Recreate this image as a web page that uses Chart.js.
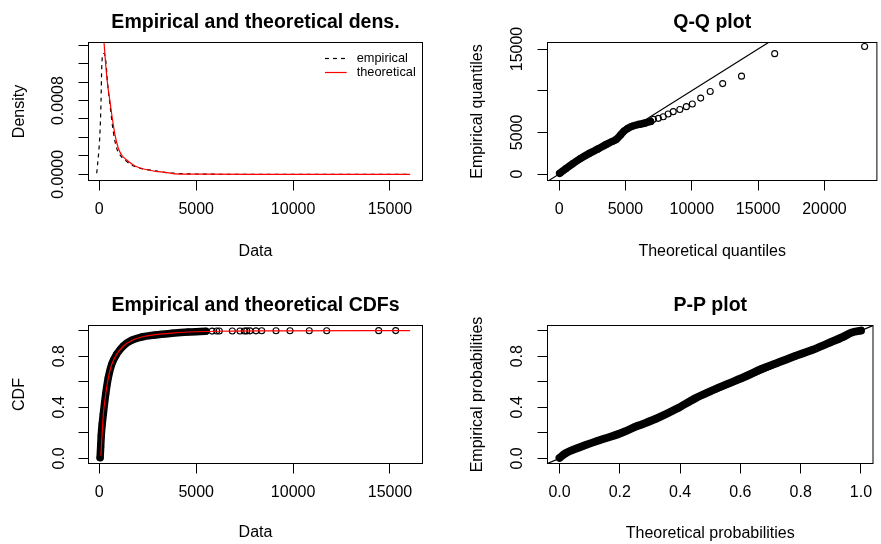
<!DOCTYPE html>
<html><head><meta charset="utf-8">
<script src="https://cdn.jsdelivr.net/npm/chart.js@4.4.1/dist/chart.umd.min.js"></script>
<style>
html,body{margin:0;padding:0;background:#fff;overflow:hidden;}
#wrap{position:relative;width:881px;height:544px;overflow:hidden;background:#fff;}
canvas{position:absolute;}
</style></head><body>
<div id="wrap">
<canvas id="c1" width="440" height="272" style="left:0px;top:0px"></canvas>
<canvas id="c2" width="442" height="272" style="left:440px;top:0px"></canvas>
<canvas id="c3" width="440" height="272" style="left:0px;top:272px"></canvas>
<canvas id="c4" width="442" height="272" style="left:440px;top:272px"></canvas>
</div>
<script>
// ---------- Panel 1: empirical and theoretical densities ----------
const densEmpX = [-134, -15, 36, 88, 124, 175, 243, 330, 433, 552, 722, 898, 1068, 1326, 1672, 2100, 2616, 3132, 3800, 5000, 8000, 12000, 16040];
const densEmpY = [0.0000109, 0.000282, 0.000462, 0.000788, 0.00115, 0.001295, 0.001313, 0.00124, 0.000967, 0.000752, 0.000462, 0.000282, 0.000209, 0.000155, 0.000101, 0.0000651, 0.0000467, 0.0000282, 0.000012, 0.000003, 0, 0, 0];
const densTheoX = [220, 330, 433, 552, 671, 810, 980, 1156, 1414, 1842, 2358, 3044, 3751, 3900, 5000, 8000, 12000, 16040];
const densTheoY = [0.00150, 0.001186, 0.000967, 0.000788, 0.000608, 0.000428, 0.000282, 0.000209, 0.000155, 0.0000901, 0.0000543, 0.0000282, 0.0000109, 0.000004, 0.000001, 0, 0, 0];
const densXTicks = [0, 5000, 10000, 15000];
const densXLabels = ["0", "5000", "10000", "15000"];
const densYTicks = [0, 0.0002, 0.0004, 0.0006, 0.0008, 0.0010, 0.0012, 0.0014];
const densYLabels = ["0.0000", "", "", "", "0.0008", "", "", ""];
const densLegend = ["empirical", "theoretical"];

// ---------- Panel 2: Q-Q plot ----------
const qqBandTheo = [40, 500, 1040, 1600, 2280, 2900, 3520, 4000, 4300, 4640, 4900, 5150, 5500, 6000, 6500, 6900];
const qqBandEmp  = [80, 640, 1250, 1850, 2480, 2980, 3520, 3900, 4150, 4700, 5150, 5450, 5720, 5950, 6120, 6300];
const qqTheo = [7110, 7480, 7850, 8220, 8600, 9100, 9590, 10040, 10670, 11390, 12330, 13750, 16250, 23030];
const qqEmp  = [6560, 6680, 6870, 7200, 7480, 7740, 8080, 8400, 9110, 9900, 10850, 11740, 14440, 15300];
const qqXTicks = [0, 5000, 10000, 15000, 20000];
const qqXLabels = ["0", "5000", "10000", "15000", "20000"];
const qqYTicks = [0, 5000, 10000, 15000];
const qqYLabels = ["0", "5000", "", "15000"];

// ---------- Panel 3: empirical and theoretical CDFs ----------
const cdfBandX = [40, 70, 100, 150, 206, 330, 464, 640, 898, 1238, 1672, 2188, 2874, 3736, 4592, 5500];
const cdfBandY = [0.005, 0.09, 0.18, 0.27, 0.347, 0.503, 0.633, 0.737, 0.816, 0.880, 0.925, 0.950, 0.966, 0.979, 0.989, 0.995];
const cdfPtsX = [5820, 6057, 6192, 6863, 7260, 7482, 7606, 7776, 8086, 8380, 9118, 9840, 10836, 11734, 14417, 15294];
const cdfPtsY = [0.9962, 0.9965, 0.9968, 0.997, 0.9973, 0.9975, 0.9978, 0.998, 0.9983, 0.9985, 0.9988, 0.999, 0.9993, 0.9995, 0.9998, 1.0];
const cdfTheoX = [80, 206, 330, 464, 640, 898, 1238, 1672, 2188, 2874, 3736, 4592, 6000, 9000, 16040];
const cdfTheoY = [0.02, 0.34, 0.50, 0.63, 0.735, 0.815, 0.878, 0.923, 0.950, 0.968, 0.981, 0.989, 0.995, 0.998, 1.0];
const cdfXTicks = [0, 5000, 10000, 15000];
const cdfXLabels = ["0", "5000", "10000", "15000"];
const cdfYTicks = [0, 0.2, 0.4, 0.6, 0.8, 1.0];
const cdfYLabels = ["0.0", "", "0.4", "", "0.8", ""];

// ---------- Panel 4: P-P plot ----------
const ppBandTheo = [0.0, 0.02, 0.065, 0.13, 0.2, 0.26, 0.32, 0.39, 0.45, 0.5, 0.56, 0.62, 0.67, 0.72, 0.78, 0.84, 0.89, 0.94, 0.97, 1.0];
const ppBandEmp  = [0.004, 0.04, 0.085, 0.14, 0.195, 0.255, 0.31, 0.39, 0.47, 0.525, 0.585, 0.645, 0.70, 0.745, 0.80, 0.85, 0.90, 0.95, 0.985, 1.0];
const ppXTicks = [0, 0.2, 0.4, 0.6, 0.8, 1.0];
const ppXLabels = ["0.0", "0.2", "0.4", "0.6", "0.8", "1.0"];
const ppYTicks = [0, 0.2, 0.4, 0.6, 0.8, 1.0];
const ppYLabels = ["0.0", "", "0.4", "", "0.8", ""];

// ---------------------------------------------------------------
const FONT = "'Liberation Sans', Arial, Helvetica, sans-serif";
Chart.defaults.font.family = FONT;
Chart.defaults.color = '#000';

const pts = (xs, ys) => xs.map((x, i) => ({x: x, y: ys[i]}));

const boxPlugin = {
  id: 'rbox',
  afterDraw(chart) {
    const {ctx, chartArea: a} = chart;
    ctx.save();
    ctx.strokeStyle = '#000';
    ctx.lineWidth = 1;
    ctx.strokeRect(a.left, a.top, a.right - a.left, a.bottom - a.top);
    ctx.restore();
  }
};

const legendPlugin = {
  id: 'rlegend',
  afterDraw(chart, args, opts) {
    if (!opts || !opts.items) return;
    const {ctx, chartArea: a} = chart;
    ctx.save();
    ctx.font = '12.8px ' + FONT;
    ctx.textBaseline = 'middle';
    ctx.textAlign = 'left';
    opts.items.forEach((it, i) => {
      const y = a.top + opts.top + i * opts.gap;
      const x0 = a.right - opts.fromRight;
      ctx.strokeStyle = it.color;
      ctx.lineWidth = 1.2;
      ctx.setLineDash(it.dash || []);
      ctx.beginPath();
      ctx.moveTo(x0, y); ctx.lineTo(x0 + opts.lineLen, y);
      ctx.stroke();
      ctx.setLineDash([]);
      ctx.fillStyle = '#000';
      ctx.fillText(it.text, x0 + opts.lineLen + opts.textGap, y);
    });
    ctx.restore();
  }
};

function axisX(min, max, ticks, labels, title, titlePadBottom, height) {
  return {
    type: 'linear', position: 'bottom', min: min, max: max,
    afterBuildTicks: s => { s.ticks = ticks.map(v => ({value: v})); },
    afterFit: s => { s.height = height; },
    ticks: { autoSkip: false, maxRotation: 0, minRotation: 0, padding: 9.6,
             font: {size: 16}, color: '#000',
             callback: (v, i) => labels[i] },
    grid: { drawOnChartArea: false, drawTicks: true, tickLength: 10, color: '#000', lineWidth: 1 },
    border: { display: false },
    title: { display: true, text: title, font: {size: 16}, color: '#000',
             padding: {top: 0, bottom: titlePadBottom} }
  };
}
function axisY(min, max, ticks, labels, title, titlePadTop, width, tickPad) {
  return {
    type: 'linear', position: 'left', min: min, max: max,
    afterBuildTicks: s => { s.ticks = ticks.map(v => ({value: v})); },
    afterFit: s => { s.width = width; },
    ticks: { autoSkip: false, minRotation: 90, maxRotation: 90, crossAlign: 'center',
             padding: tickPad, font: {size: 16}, color: '#000',
             callback: (v, i) => labels[i] },
    grid: { drawOnChartArea: false, drawTicks: true, tickLength: 10, color: '#000', lineWidth: 1 },
    border: { display: false },
    title: { display: true, text: title, font: {size: 16}, color: '#000',
             padding: {top: titlePadTop, bottom: 0} }
  };
}
function baseOptions(title, tTop, tBottom, padRight, scales, legendOpts) {
  return {
    responsive: false, animation: false, devicePixelRatio: 1,
    events: [],
    layout: { padding: {left: 0, right: padRight, top: 0, bottom: 0} },
    plugins: {
      legend: { display: false },
      tooltip: { enabled: false },
      title: { display: true, text: title, fullSize: false, color: '#000',
               font: {size: 19.5, weight: 'bold', lineHeight: 1.2},
               padding: {top: tTop, bottom: tBottom} },
      rlegend: legendOpts || {}
    },
    scales: scales
  };
}

const hollow = { pointRadius: 3, pointBorderWidth: 1.1, pointBorderColor: '#000',
                 pointBackgroundColor: 'rgba(0,0,0,0)', pointStyle: 'circle' };
function band(xs, ys, w, order) {
  return Object.assign({ data: pts(xs, ys), showLine: true, borderColor: '#000', borderWidth: w,
    borderCapStyle: 'round', borderJoinStyle: 'round', cubicInterpolationMode: 'monotone',
    order: order }, hollow);
}
function scatterPts(xs, ys, order) {
  return Object.assign({ data: pts(xs, ys), showLine: false, order: order }, hollow);
}
function curve(xs, ys, color, dash, order) {
  return { data: pts(xs, ys), showLine: true, borderColor: color, borderWidth: 1.2,
           borderDash: dash || [], pointRadius: 0, cubicInterpolationMode: 'monotone', order: order };
}

// Panel 1
new Chart(document.getElementById('c1'), {
  type: 'scatter',
  data: { datasets: [
    curve(densTheoX, densTheoY, '#ff0000', [], 0),
    curve(densEmpX, densEmpY, '#000000', [4, 4], 1)
  ]},
  options: baseOptions('Empirical and theoretical dens.', 10.5, 8.6, 17.5, {
    x: axisX(-558, 16678, densXTicks, densXLabels, 'Data', 11.1, 91.5),
    y: axisY(-0.0000673, 0.00143, densYTicks, densYLabels, 'Density', 9.9, 88.5, -4.3)
  }, { items: [ {text: densLegend[0], color: '#000', dash: [4, 4]},
                {text: densLegend[1], color: '#ff0000'} ],
       top: 16, gap: 14, fromRight: 97.5, lineLen: 21.7, textGap: 10 }),
  plugins: [boxPlugin, legendPlugin]
});

// Panel 2
new Chart(document.getElementById('c2'), {
  type: 'scatter',
  data: { datasets: [
    curve([-2000, 26000], [-2000, 26000], '#000', [], 0),
    scatterPts(qqTheo, qqEmp, 1),
    band(qqBandTheo, qqBandEmp, 7.5, 2)
  ]},
  options: baseOptions('Q-Q plot', 10.5, 8.6, 0.5, {
    x: axisX(-877, 23955, qqXTicks, qqXLabels, 'Theoretical quantiles', 11.1, 91.5),
    y: axisY(-780, 15780, qqYTicks, qqYLabels, 'Empirical quantiles', 27.9, 107.5, -2.2)
  }),
  plugins: [boxPlugin]
});

// Panel 3
new Chart(document.getElementById('c3'), {
  type: 'scatter',
  data: { datasets: [
    curve(cdfTheoX, cdfTheoY, '#ff0000', [], 0),
    scatterPts(cdfPtsX, cdfPtsY, 1),
    band(cdfBandX, cdfBandY, 7.5, 2)
  ]},
  options: baseOptions('Empirical and theoretical CDFs', 21.6, 8.5, 17.5, {
    x: axisX(-558, 16678, cdfXTicks, cdfXLabels, 'Data', 1.6, 80.5),
    y: axisY(-0.04, 1.04, cdfYTicks, cdfYLabels, 'CDF', 9.7, 88.5, 8.2)
  }),
  plugins: [boxPlugin]
});

// Panel 4
new Chart(document.getElementById('c4'), {
  type: 'scatter',
  data: { datasets: [
    curve([-0.1, 1.1], [-0.1, 1.1], '#000', [], 0),
    band(ppBandTheo, ppBandEmp, 8, 1)
  ]},
  options: baseOptions('P-P plot', 21.6, 8.5, 0.5, {
    x: axisX(-0.04, 1.04, ppXTicks, ppXLabels, 'Theoretical probabilities', 1.1, 80.5),
    y: axisY(-0.04, 1.04, ppYTicks, ppYLabels, 'Empirical probabilities', 27.9, 107.5, 8.9)
  }),
  plugins: [boxPlugin]
});
</script>
</body></html>
